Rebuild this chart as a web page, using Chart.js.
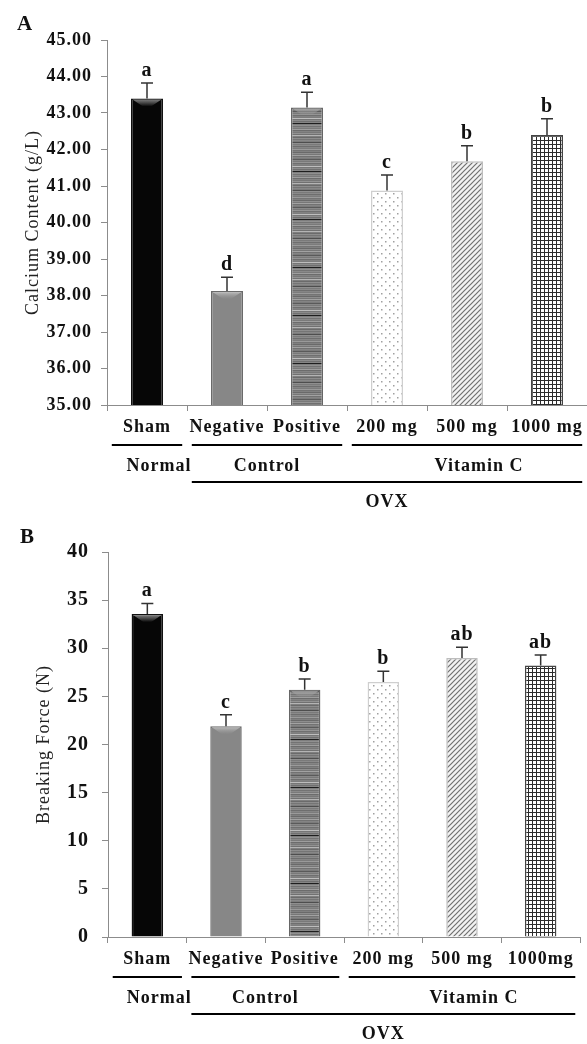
<!DOCTYPE html>
<html>
<head>
<meta charset="utf-8">
<script src="https://cdn.jsdelivr.net/npm/chart.js@4.4.0/dist/chart.umd.min.js"></script>
<style>
  html, body { margin: 0; padding: 0; background: #fff; }
  #wrap { position: relative; width: 587px; height: 1044px; }
  canvas { position: absolute; left: 0; }
</style>
</head>
<body>
<div id="wrap">
  <canvas id="chartA" width="587" height="520" style="top:0"></canvas>
  <canvas id="chartB" width="587" height="524" style="top:520px"></canvas>
</div>
<script>
// ---- data ----
const categoriesA = ['Sham', 'Negative', 'Positive', '200 mg', '500 mg', '1000 mg'];
const categoriesB = ['Sham', 'Negative', 'Positive', '200 mg', '500 mg', '1000mg'];

const calcium = [43.40, 38.12, 43.15, 40.88, 41.68, 42.40];
const calciumSE = [0.42, 0.38, 0.42, 0.42, 0.42, 0.44];
const calciumLetters = ['a', 'd', 'a', 'c', 'b', 'b'];

const force = [33.55, 21.9, 25.7, 26.5, 29.0, 28.2];
const forceSE = [1.1, 1.2, 1.1, 1.1, 1.1, 1.1];
const forceLetters = ['a', 'c', 'b', 'b', 'ab', 'ab'];

const groupLabels = ['Normal', 'Control', 'Vitamin C'];
const groupSpans = [[0, 0], [1, 2], [3, 5]];
const outerLabel = 'OVX';
const outerSpan = [1, 5];

const SERIF = "'Liberation Serif', 'Times New Roman', serif";
const groupLabelShift = [12, 0, 12];

// ---- fills ----
function makePattern(w, h, draw) {
  const c = document.createElement('canvas');
  c.width = w; c.height = h;
  const g = c.getContext('2d');
  draw(g, w, h);
  return g.createPattern(c, 'repeat');
}

// one entry per pixel row of the horizontal-stripe fill
const stripeRows = ['#7a7a7a', '#8a8a8a', '#6e6e6e', '#858585', '#7c7c7c', '#9a9a9a', '#747474', '#808080',
  '#6a6a6a', '#8e8e8e', '#777', '#a2a2a2', '#727272', '#848484', '#7b7b7b', '#5a5a5a',
  '#888', '#797979', '#949494', '#6f6f6f', '#828282', '#7d7d7d', '#bdbdbd', '#767676',
  '#8b8b8b', '#707070', '#868686', '#1e1e1e', '#7e7e7e', '#909090', '#737373', '#898989',
  '#7a7a7a', '#9e9e9e', '#6c6c6c', '#838383', '#787878', '#929292', '#717171', '#b4b4b4',
  '#7f7f7f', '#6b6b6b', '#8d8d8d', '#757575', '#878787', '#7c7c7c', '#4e4e4e', '#8f8f8f'];

const stripes = makePattern(4, stripeRows.length, (g, w) => {
  stripeRows.forEach((c, i) => { g.fillStyle = c; g.fillRect(0, i, w, 1); });
});
const dots = makePattern(8, 8, (g) => {
  g.fillStyle = '#fff'; g.fillRect(0, 0, 8, 8);
  g.fillStyle = '#a0a0a0';
  g.fillRect(1, 1, 1.5, 1.5);
  g.fillRect(5, 5, 1.5, 1.5);
});
const diagonal = makePattern(5, 5, (g) => {
  g.fillStyle = '#f2f2f2'; g.fillRect(0, 0, 5, 5);
  g.strokeStyle = '#707070'; g.lineWidth = 1.2;
  g.beginPath();
  g.moveTo(-1, 6); g.lineTo(6, -1);
  g.moveTo(-1, 1); g.lineTo(1, -1);
  g.moveTo(4, 6); g.lineTo(6, 4);
  g.stroke();
});
const grid = makePattern(4, 4, (g) => {
  g.fillStyle = '#fff'; g.fillRect(0, 0, 4, 4);
  g.fillStyle = '#2b2b2b';
  g.fillRect(0, 0, 4, 1);
  g.fillRect(0, 0, 1, 4);
});

const barFills = ['#060606', '#878787', stripes, dots, diagonal, grid];
const barBorders = ['#111', '#6a6a6a', '#666', '#cfcfcf', '#bdbdbd', '#444'];
const bevels = ['#8c8c8c', '#c6c6c6', '#aaaaaa', null, null, null];

// ---- extras: error bars, letters, group rows ----
const extras = {
  id: 'extras',
  beforeDraw(chart) { chart.ctx.letterSpacing = '1px'; },
  afterDatasetsDraw(chart, args, o) {
    const ctx = chart.ctx;
    const meta = chart.getDatasetMeta(0);
    const y = chart.scales.y;
    ctx.save();
    meta.data.forEach((bar, i) => {
      const w = bar.width;
      // bevel on top
      if (bevels[i]) {
        const grd = ctx.createLinearGradient(0, bar.y, 0, bar.y + 8);
        grd.addColorStop(0, bevels[i]);
        grd.addColorStop(1, 'rgba(160,160,160,0)');
        ctx.fillStyle = grd;
        ctx.beginPath();
        ctx.moveTo(bar.x - w / 2 + 1.5, bar.y + 1);
        ctx.lineTo(bar.x + w / 2 - 1.5, bar.y + 1);
        ctx.lineTo(bar.x + 4, bar.y + 8);
        ctx.lineTo(bar.x - 4, bar.y + 8);
        ctx.closePath();
        ctx.fill();
      }
      // error bar
      const top = y.getPixelForValue(o.values[i] + o.errors[i]);
      ctx.strokeStyle = '#333';
      ctx.lineWidth = 1.5;
      ctx.beginPath();
      ctx.moveTo(bar.x, bar.y);
      ctx.lineTo(bar.x, top);
      ctx.moveTo(bar.x - 6, top);
      ctx.lineTo(bar.x + 6, top);
      ctx.stroke();
      // letter
      ctx.fillStyle = '#111';
      ctx.font = 'bold 20px ' + SERIF;
      ctx.textAlign = 'center';
      ctx.textBaseline = 'alphabetic';
      ctx.fillText(o.letters[i], bar.x, top - 7);
    });

    // group rows under the axis
    const xs = chart.scales.x;
    const cw = xs.getPixelForValue(1) - xs.getPixelForValue(0);
    const base = chart.chartArea.bottom;
    const spanPx = (s) => [xs.getPixelForValue(s[0]) - cw * 0.44, xs.getPixelForValue(s[1]) + cw * 0.44];
    ctx.strokeStyle = '#000';
    ctx.lineWidth = 2;
    ctx.font = 'bold 18px ' + SERIF;
    ctx.textBaseline = 'middle';
    groupSpans.forEach((s, i) => {
      const [a, b] = spanPx(s);
      ctx.beginPath();
      ctx.moveTo(a, base + 40); ctx.lineTo(b, base + 40);
      ctx.stroke();
      ctx.fillText(groupLabels[i], (a + b) / 2 + groupLabelShift[i], base + 61);
    });
    const [oa, ob] = spanPx(outerSpan);
    ctx.beginPath();
    ctx.moveTo(oa, base + 77); ctx.lineTo(ob, base + 77);
    ctx.stroke();
    ctx.fillText(outerLabel, (oa + ob) / 2, base + 97);

    // panel letter
    ctx.textAlign = 'left';
    ctx.textBaseline = 'alphabetic';
    ctx.font = 'bold 21px ' + SERIF;
    ctx.fillText(o.panel, o.panelX, o.panelY);
    ctx.restore();
  },
  afterDraw(chart) { chart.ctx.letterSpacing = '0px'; }
};

function buildChart(id, cfg) {
  const axisColor = '#8c8c8c';
  return new Chart(document.getElementById(id), {
    type: 'bar',
    data: {
      labels: cfg.labels,
      datasets: [{
        data: cfg.values,
        backgroundColor: barFills,
        borderColor: barBorders,
        borderWidth: 1.5,
        barPercentage: 0.4,
        categoryPercentage: 1
      }]
    },
    options: {
      responsive: false,
      animation: false,
      events: [],
      layout: { padding: { top: cfg.top, right: cfg.right, bottom: 0, left: 0 } },
      plugins: {
        legend: { display: false },
        tooltip: { enabled: false },
        extras: {
          values: cfg.values, errors: cfg.errors, letters: cfg.letters,
          panel: cfg.panel, panelX: cfg.panelX, panelY: cfg.panelY
        }
      },
      scales: {
        x: {
          grid: { offset: true, drawOnChartArea: false, tickLength: 6, color: axisColor },
          border: { color: axisColor, width: 1 },
          ticks: {
            autoSkip: false, maxRotation: 0, color: '#111', padding: 6,
            font: { family: SERIF, size: 18, weight: 'bold' }
          },
          afterFit: (s) => { s.height = cfg.xHeight; }
        },
        y: {
          min: cfg.min, max: cfg.max,
          grid: { drawOnChartArea: false, tickLength: 6, color: axisColor },
          border: { color: axisColor, width: 1 },
          ticks: {
            stepSize: cfg.step, color: '#111', padding: cfg.tickPad,
            font: { family: SERIF, size: cfg.tickSize, weight: 'bold' },
            callback: cfg.fmt
          },
          title: {
            display: true, text: cfg.title, color: '#222',
            font: { family: SERIF, size: 18 },
            padding: { top: cfg.titlePad, bottom: 0 }
          },
          afterFit: (s) => { s.width = cfg.yWidth; }
        }
      }
    },
    plugins: [extras]
  });
}

buildChart('chartA', {
  labels: categoriesA, values: calcium, errors: calciumSE, letters: calciumLetters,
  min: 35, max: 45, step: 1, fmt: (v) => v.toFixed(2), tickSize: 18, tickPad: 9,
  title: 'Calcium Content (g/L)', titlePad: 22,
  top: 40, right: 0, yWidth: 107, xHeight: 115,
  panel: 'A', panelX: 17, panelY: 30
});

buildChart('chartB', {
  labels: categoriesB, values: force, errors: forceSE, letters: forceLetters,
  min: 0, max: 40, step: 5, fmt: (v) => String(v), tickSize: 20, tickPad: 13,
  title: 'Breaking Force (N)', titlePad: 33,
  top: 32, right: 7, yWidth: 108, xHeight: 107,
  panel: 'B', panelX: 20, panelY: 23
});
</script>
</body>
</html>
